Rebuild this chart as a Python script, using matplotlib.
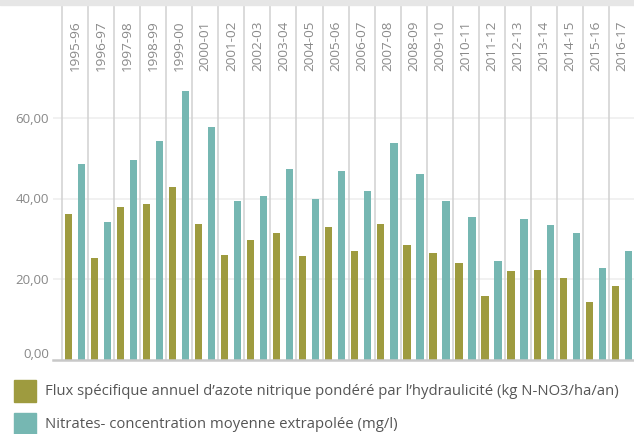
import matplotlib.pyplot as plt
from matplotlib.patches import Rectangle

years = ["1995-96", "1996-97", "1997-98", "1998-99", "1999-00", "2000-01",
         "2001-02", "2002-03", "2003-04", "2004-05", "2005-06", "2006-07",
         "2007-08", "2008-09", "2009-10", "2010-11", "2011-12", "2012-13",
         "2013-14", "2014-15", "2015-16", "2016-17"]
flux = [36.2, 25.3, 38.0, 38.7, 42.9, 33.7, 26.0, 29.8, 31.5, 25.8, 33.0,
        27.0, 33.7, 28.5, 26.5, 24.0, 15.9, 22.1, 22.3, 20.3, 14.4, 18.4]
nitrates = [48.6, 34.2, 49.6, 54.3, 66.7, 57.8, 39.5, 40.7, 47.4, 39.9, 46.9,
            42.0, 53.8, 46.2, 39.5, 35.5, 24.6, 35.0, 33.5, 31.5, 22.8, 27.0]
yticks = [0, 20, 40, 60]
legend_labels = ["Flux spécifique annuel d\u2019azote nitrique pondéré par l\u2019hydraulicité (kg N-NO3/ha/an)",
                 "Nitrates- concentration moyenne extrapolée (mg/l)"]

c_olive = "#9e9b3f"
c_teal = "#76b7b2"
sep = "#d4d4d4"
plt.rcParams['font.family'] = ['Open Sans', 'DejaVu Sans']

W, H = 634, 435
fig = plt.figure(figsize=(W / 100, H / 100), dpi=100)

def fx(p):
    return p / W

def fy(p):
    return 1 - p / H

colw = 26.05
x0, x1 = 53, 634
lo = -(62 - x0) / colw
hi = lo + (x1 - x0) / colw

# top grey band
fig.patches.append(Rectangle((0, fy(6)), 1, 6 / H, transform=fig.transFigure,
                             color="#e6e6e6", zorder=0))

# header axes
hax = fig.add_axes([fx(x0), fy(80), fx(x1 - x0), (80 - 7) / H])
hax.set_xlim(lo, hi)
hax.set_ylim(0, 1)
hax.axis("off")
for k in range(len(years) + 1):
    hax.axvline(k, color=sep, lw=1.2)
for i, y in enumerate(years):
    hax.text(i + 0.5, 0.47, y, rotation=90, ha="center", va="center",
             fontsize=9.7, color="#8a8a8a")

# main axes
ax = fig.add_axes([fx(x0), fy(361), fx(x1 - x0), (361 - 80) / H])
ax.set_xlim(lo, hi)
ax.set_ylim(0, 69.7)
for s in ax.spines.values():
    s.set_visible(False)
ax.set_xticks([])
ax.set_yticks([])
for t in yticks[1:]:
    ax.axhline(t, color="#efefef", lw=1.2, zorder=0)
for k in range(len(years) + 1):
    ax.axvline(k, color=sep, lw=1.2, zorder=1)
pos = list(range(len(years)))
ax.bar([p + 0.24 for p in pos], flux, width=0.28, color=c_olive, zorder=2)
ax.bar([p + 0.74 for p in pos], nitrates, width=0.28, color=c_teal, zorder=2)
ax.axhline(0, color="#c8c8c8", lw=1.8, zorder=3, clip_on=False)

for t in yticks:
    lab = f"{t:.2f}".replace(".", ",")
    ax.text(-4 / (x1 - x0), t, lab, transform=ax.get_yaxis_transform(),
            ha="right", va="bottom" if t == 0 else "center",
            fontsize=9.5, color="#888888")

# legend
for j, (lab, c) in enumerate(zip(legend_labels, [c_olive, c_teal])):
    top = 381 + j * 33
    fig.patches.append(Rectangle((fx(14), fy(top + 22)), 22 / W, 22 / H,
                                 transform=fig.transFigure, color=c))
    fig.text(fx(45), fy(top + 11), lab, ha="left", va="center",
             fontsize=10.7, color="#555555")

fig.savefig("out.png", dpi=100)
